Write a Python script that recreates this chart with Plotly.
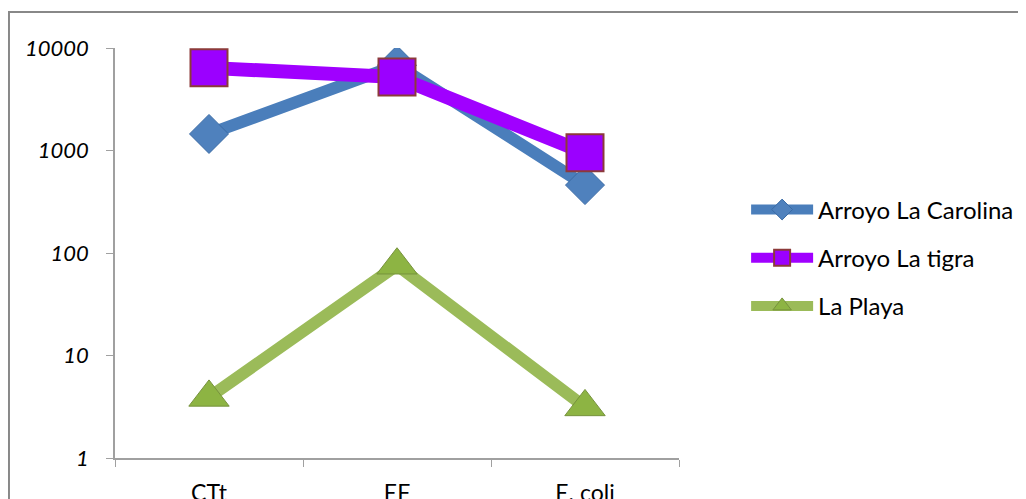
import plotly.graph_objects as go

categories = ["CTt", "EF", "E. coli"]
carolina = [1450, 6800, 460]
tigra = [6400, 5200, 950]
playa = [3.9, 76, 3.15]
ytick_vals = [1, 10, 100, 1000, 10000]
ytick_text = ["1", "10", "100", "1000", "10000"]

FONT = "Lato, Open Sans, sans-serif"

fig = go.Figure()
fig.add_trace(go.Scatter(
    x=categories, y=carolina, name="Arroyo La Carolina", mode="lines+markers",
    legendgroup="a",
    line=dict(color="#4A7EBB", width=12),
    marker=dict(symbol="diamond", size=30, color="#4F81BD",
                line=dict(color="#3A6BA5", width=1))))
fig.add_trace(go.Scatter(
    x=categories, y=tigra, name="Arroyo La tigra", mode="lines+markers",
    legendgroup="b",
    line=dict(color="#A000FF", width=14),
    marker=dict(symbol="square", size=37, color="#9B00FF",
                line=dict(color="#8C3A3A", width=2))))
fig.add_trace(go.Scatter(
    x=categories, y=playa, name="La Playa", mode="lines+markers",
    legendgroup="c",
    line=dict(color="#9BBB59", width=12),
    marker=dict(symbol="triangle-up", size=35, color="#8DB443",
                line=dict(color="#76923C", width=1))))

fig.update_layout(
    width=1026, height=499,
    margin=dict(l=107, r=355, t=40, b=49, autoexpand=False),
    paper_bgcolor="white", plot_bgcolor="white",
    font=dict(family=FONT, size=22, color="#000000"),
    showlegend=True,
    legend=dict(x=1.119, y=0.488, xanchor="left", yanchor="middle",
                font=dict(family=FONT, size=24, color="#000000"),
                itemwidth=62, tracegroupgap=14, traceorder="grouped",
                bgcolor="rgba(0,0,0,0)"),
    shapes=[dict(type="rect", xref="paper", yref="paper",
                 x0=-0.188, y0=-0.5, x1=2.0, y1=1.0878,
                 line=dict(color="#888888", width=2), fillcolor="rgba(0,0,0,0)",
                 layer="below")],
)
fig.update_xaxes(
    type="category", range=[-0.5, 2.5], tickson="boundaries", automargin=False,
    showline=True, linecolor="#A0A0A0", linewidth=1.5,
    ticks="outside", ticklen=7, tickcolor="#A0A0A0",
    showgrid=False, zeroline=False, ticklabelstandoff=14,
    tickfont=dict(family=FONT, size=23))
fig.update_yaxes(
    type="log", range=[0, 4], tickvals=ytick_vals, ticktext=ytick_text,
    automargin=False,
    showline=True, linecolor="#A0A0A0", linewidth=1.5,
    ticks="outside", ticklen=7, tickcolor="#A0A0A0",
    showgrid=False, zeroline=False, ticklabelstandoff=13,
    tickfont=dict(family=FONT, size=22, style="italic"))

fig.write_html("out.html")
